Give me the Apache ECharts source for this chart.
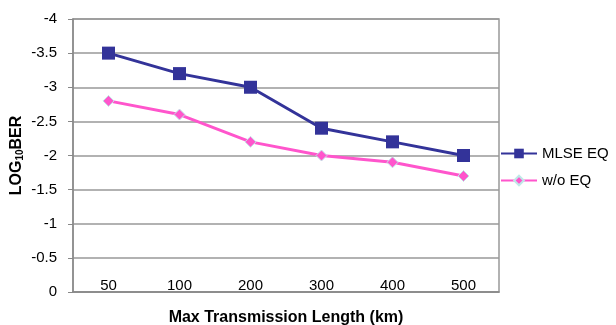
<!DOCTYPE html>
<html>
<head>
<meta charset="utf-8">
<script src="https://cdn.jsdelivr.net/npm/echarts@6/dist/echarts.min.js"></script>
<style>
html,body{margin:0;padding:0;background:#fff;}
#main{width:616px;height:325px;}
</style>
</head>
<body>
<div id="main"></div>
<script>
// 横轴类别
var lengths = ['50', '100', '200', '300', '400', '500'];
// 两条曲线
var mlseEq = [-3.5, -3.2, -3.0, -2.4, -2.2, -2.0];
var noEq = [-2.8, -2.6, -2.2, -2.0, -1.9, -1.7];

var myChart = echarts.init(document.getElementById('main'));
var option = {
    animation: false,
    textStyle: { fontFamily: 'Liberation Sans, Arial, sans-serif' },
    grid: {
        left: 73, right: 117, top: 19, bottom: 33,
        outerBoundsMode: 'none',
        containLabel: false,
        show: true, borderColor: '#999', borderWidth: 1.5
    },
    legend: {
        orient: 'vertical',
        left: 500, top: 146,
        padding: 0,
        itemWidth: 36, itemHeight: 12, itemGap: 12,
        textStyle: { fontSize: 15, color: '#000' },
        data: ['MLSE EQ', 'w/o EQ']
    },
    xAxis: {
        type: 'category',
        data: lengths,
        name: 'Max Transmission Length (km)',
        nameLocation: 'middle',
        nameGap: 18,
        nameTextStyle: { fontSize: 16, fontWeight: 'bold', color: '#000' },
        axisLine: { lineStyle: { color: '#888', width: 1.5 } },
        axisTick: { inside: true, length: 4, lineStyle: { color: '#888' } },
        axisLabel: { inside: true, margin: -1, fontSize: 15, color: '#000' }
    },
    yAxis: {
        type: 'value',
        inverse: true,
        min: -4, max: 0, interval: 0.5,
        name: '{a|LOG}{b|10}{a|BER}',
        nameLocation: 'middle',
        nameRotate: 90,
        nameGap: 48,
        nameMoveOverlap: false,
        nameTextStyle: {
            rich: {
                a: { fontSize: 16, fontWeight: 'bold', color: '#000' },
                b: { fontSize: 10, fontWeight: 'bold', color: '#000', verticalAlign: 'bottom', padding: [6, 0, 0, 0] }
            }
        },
        axisLine: { show: true, lineStyle: { color: '#888', width: 1.5 } },
        axisTick: { show: true, length: 5, lineStyle: { color: '#888' } },
        axisLabel: { margin: 16, fontSize: 15, color: '#000' },
        splitLine: { lineStyle: { color: '#999', width: 1.5 } }
    },
    series: [{
        name: 'MLSE EQ',
        type: 'line',
        data: mlseEq,
        symbol: 'rect',
        symbolSize: 13,
        lineStyle: { color: '#333399', width: 3 },
        itemStyle: { color: '#333399' }
    }, {
        name: 'w/o EQ',
        type: 'line',
        data: noEq,
        symbol: 'diamond',
        symbolSize: 11,
        lineStyle: { color: '#ff55cc', width: 3 },
        itemStyle: { color: '#ff55cc', borderColor: '#bfe8e8', borderWidth: 1 }
    }]
};
myChart.setOption(option);
</script>
</body>
</html>
